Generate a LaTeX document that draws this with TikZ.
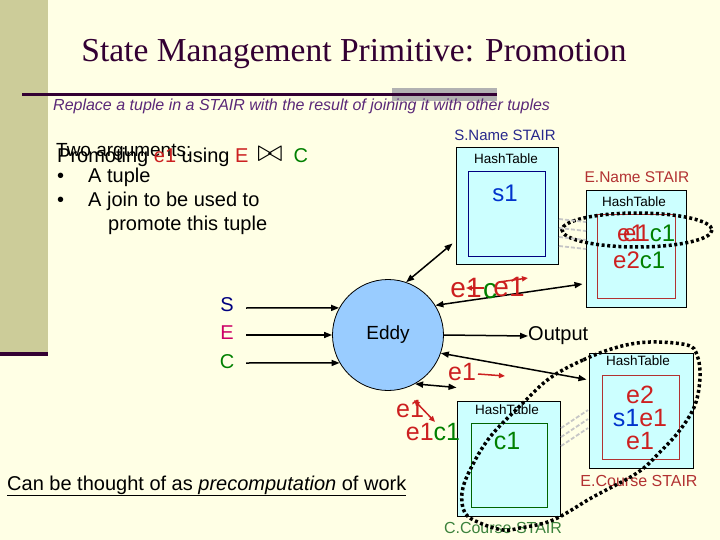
\documentclass[tikz,border=0pt]{standalone}
\usepackage{fontspec}
\setmainfont{Liberation Sans}
\newfontfamily\titlefont{Liberation Serif}
\usetikzlibrary{arrows.meta,shapes.geometric}
\definecolor{bg}{RGB}{255,255,229}
\definecolor{side}{RGB}{204,204,153}
\definecolor{darkl}{RGB}{51,0,51}
\definecolor{greybar}{RGB}{178,178,178}
\definecolor{purp}{RGB}{90,40,120}
\definecolor{cyanf}{RGB}{204,255,255}
\definecolor{navyt}{RGB}{40,40,140}
\definecolor{navyb}{RGB}{0,0,128}
\definecolor{blu}{RGB}{0,51,204}
\definecolor{redt}{RGB}{204,32,32}
\definecolor{redb}{RGB}{178,50,50}
\definecolor{grn}{RGB}{0,128,0}
\definecolor{grnb}{RGB}{0,100,0}
\definecolor{grnt}{RGB}{60,130,60}
\definecolor{crim}{RGB}{204,0,102}
\definecolor{eddyf}{RGB}{153,204,255}
\newcommand{\fsz}[1]{\fontsize{#1}{#1}\selectfont}
\begin{document}
\begin{tikzpicture}[x=1pt,y=-1pt,
  txt/.style={inner sep=0pt},
  outerbox/.style={draw=black, fill=cyanf, line width=1pt, inner sep=0pt},
  innerbox/.style={fill=cyanf, line width=1pt, inner sep=0pt},
  arr/.style={line width=1.5pt, -{Triangle[length=8pt,width=6pt]}},
  darr/.style={line width=1.5pt, {Triangle[length=8pt,width=6pt]}-{Triangle[length=8pt,width=6pt]}},
  rarr/.style={redt, line width=1.5pt, -{Triangle[length=6pt,width=5pt]}},
  dotline/.style={line width=3.5pt, dash pattern=on 3pt off 2.6pt},
  hatch/.style={gray!45, line width=1.8pt, dash pattern=on 4pt off 2pt}
]
\useasboundingbox (0,0) rectangle (720,540);
\fill[bg] (0,0) rectangle (720,540);
\fill[side] (0,0) rectangle (48,352);
\fill[darkl] (0,352) rectangle (48,356);
\fill[greybar] (392,88) rectangle (497,101);
\draw[darkl, line width=3pt] (22,94.5) -- (497,94.5);

% title and texts
\node[txt, anchor=base, font=\titlefont\fsz{33.5}, text=darkl] (title) at (354,62) {State Management Primitive: Promotion};
\node[txt, anchor=base west, font=\itshape\fsz{16}, text=purp] (sub) at (53,111) {Replace a tuple in a STAIR with the result of joining it with other tuples};
\node[txt, anchor=base west, font=\fsz{19}] (two) at (56,157) {Two arguments:};
\node[txt, anchor=base west, font=\fsz{20}] (prom) at (57,163) {Promoting \textcolor{redt}{e1} using \textcolor{redt}{E}\, \raisebox{1pt}{\scalebox{1.5}{$\bowtie$}}\ \ \textcolor{grn}{C}};
\node[txt, anchor=base west, font=\fsz{20}] (b1) at (57,183) {•};
\node[txt, anchor=base west, font=\fsz{20}] (t1) at (88,183) {A tuple};
\node[txt, anchor=base west, font=\fsz{20}] (b2) at (57,207) {•};
\node[txt, anchor=base west, font=\fsz{20}] (t2) at (88,207) {A join to be used to};
\node[txt, anchor=base west, font=\fsz{20}] (t3) at (108,230) {promote this tuple};
\node[txt, anchor=base west, font=\fsz{20}] (bottom) at (7,490) {\underline{Can be thought of as \textit{precomputation} of work}};

% S.Name STAIR
\node[txt, font=\fsz{15}, text=navyt] (snl) at (505,135) {S.Name STAIR};
\node[outerbox, minimum width=102pt, minimum height=116pt] (sbox) at (507,206) {};
\node[innerbox, draw=navyb, minimum width=77pt, minimum height=84pt] (sin) at (506.5,214) {};
\node[txt, font=\fsz{13.5}] (sht) at (506,159) {HashTable};
\node[txt, font=\fsz{24}, text=blu] (s1) at (505,193) {s1};

% E.Name STAIR
\node[txt, font=\fsz{15.5}, text=redb] (enl) at (637,177) {E.Name STAIR};
\node[outerbox, minimum width=100pt, minimum height=116pt] (ebox) at (636,249) {};
\node[innerbox, draw=redb, minimum width=78pt, minimum height=83pt] (ein) at (636,256.5) {};
\node[txt, font=\fsz{13.5}] (eht) at (634,202) {HashTable};
\node[txt, font=\fsz{24}, text=redt, anchor=base west] (ex) at (617,241) {e1};
\node[txt, font=\fsz{24}, anchor=base west] (e1c1) at (623,241) {\textcolor{redt}{e1}\textcolor{grn}{c1}};
\node[txt, font=\fsz{24}, anchor=base west] (e2c1) at (613,268) {\textcolor{redt}{e2}\textcolor{grn}{c1}};
\draw[dotline] (637,230) ellipse [x radius=75, y radius=17];

% hatch between S and E
\foreach \i in {0,1,2,3}{
  \draw[hatch] (559,219+9*\i) -- (586,222+9*\i);
}

% C.Course STAIR
\node[outerbox, minimum width=103pt, minimum height=115pt] (ccbox) at (508.5,458.5) {};
\node[innerbox, draw=grnb, minimum width=76pt, minimum height=84pt] (ccin) at (509,465) {};
\node[txt, font=\fsz{13.5}] (ccht) at (507,410) {HashTable};
\node[txt, font=\fsz{25}, text=grn] (c1) at (507,441) {c1};
\node[txt, font=\fsz{16}, text=grnt] (ccl) at (503,528) {C.Course STAIR};

% E.Course STAIR
\node[outerbox, minimum width=104pt, minimum height=115pt] (ecbox) at (641,410.5) {};
\node[innerbox, draw=redb, minimum width=77pt, minimum height=84pt] (ecin) at (640.5,417) {};
\node[txt, font=\fsz{13.5}] (echt) at (638,361) {HashTable};
\node[txt, font=\fsz{25}, text=redt] (ece2) at (640,395) {e2};
\node[txt, font=\fsz{25}] (ecs1) at (640,418) {\textcolor{blu}{s1}\textcolor{redt}{e1}};
\node[txt, font=\fsz{25}, text=redt] (ece1) at (640,441) {e1};
\node[txt, font=\fsz{16}, text=redb] (ecl) at (639,481) {E.Course STAIR};

% hatch between C and E.Course
\foreach \i in {0,1,2}{
  \draw[hatch] (561,428+9*\i) -- (588,410+9*\i);
}

% Eddy
\node[circle, draw=black, fill=eddyf, line width=0.8pt, minimum size=111pt, inner sep=0pt, font=\fsz{19}] (eddy) at (388,335) {Eddy};

% S E C
\node[txt, font=\fsz{20}, text=navyb] (S) at (227,305) {S};
\node[txt, font=\fsz{20}, text=crim] (E) at (227,333) {E};
\node[txt, font=\fsz{20}, text=grn] (C) at (227,362) {C};
\coordinate (sa) at (246,308);
\coordinate (ea) at (246,335);
\coordinate (ca) at (246,363);
\draw[arr] (sa) -- (eddy.151);
\draw[arr] (ea) -- (eddy.west);
\draw[arr] (ca) -- (eddy.210);

% Output
\node[txt, font=\fsz{20}, anchor=west] (out) at (528,336) {Output};
\draw[arr] (eddy.east) -- (out.west);

% connectors to stairs
\draw[darr] (eddy.71) -- ([shift={(-3,-21)}]sbox.south west);
\draw[darr] (eddy.32) -- ([shift={(-3,35)}]ebox.west);
\draw[darr] (eddy.-19) -- ([shift={(-2,-31)}]ecbox.west);
\draw[darr] (eddy.-61) -- ([yshift=13]ccbox.north west);

% red overlay labels
\node[txt, font=\fsz{28}, text=redt, anchor=base] (o1) at (466,297) {e1};
\node[txt, font=\fsz{28}, text=grn, anchor=base] (o2) at (490,298) {c};
\node[txt, font=\fsz{28}, text=redt, anchor=base] (o3) at (509,296) {e1};
\draw[rarr] (484,288) -- (466,288);
\draw[rarr] (499,282) -- (528,278);

\node[txt, font=\fsz{25}, text=redt, anchor=base] (o4) at (462,380) {e1};
\draw[rarr] (478,374) -- (505,376);

\node[txt, font=\fsz{25}, text=redt, anchor=base] (o5) at (410,417) {e1};
\node[txt, font=\fsz{25}, anchor=base] (o6) at (433,440) {\textcolor{redt}{e1}\textcolor{grn}{c1}};
\draw[redt, line width=1.5pt, {Triangle[length=6pt,width=5pt]}-{Triangle[length=6pt,width=5pt]}] (414,400) -- (435,422);

% big dotted lasso
\draw[dotline] plot[smooth cycle, tension=0.6] coordinates {(618,347) (583,360) (550,378) (523,403) (490,437) (470,470) (462,493) (465,513) (480,523) (503,530) (520,528) (553,520) (593,497) (637,473) (660,452) (680,430) (695,405) (700,377) (697,355) (687,345) (650,342)};
\end{tikzpicture}
\end{document}
